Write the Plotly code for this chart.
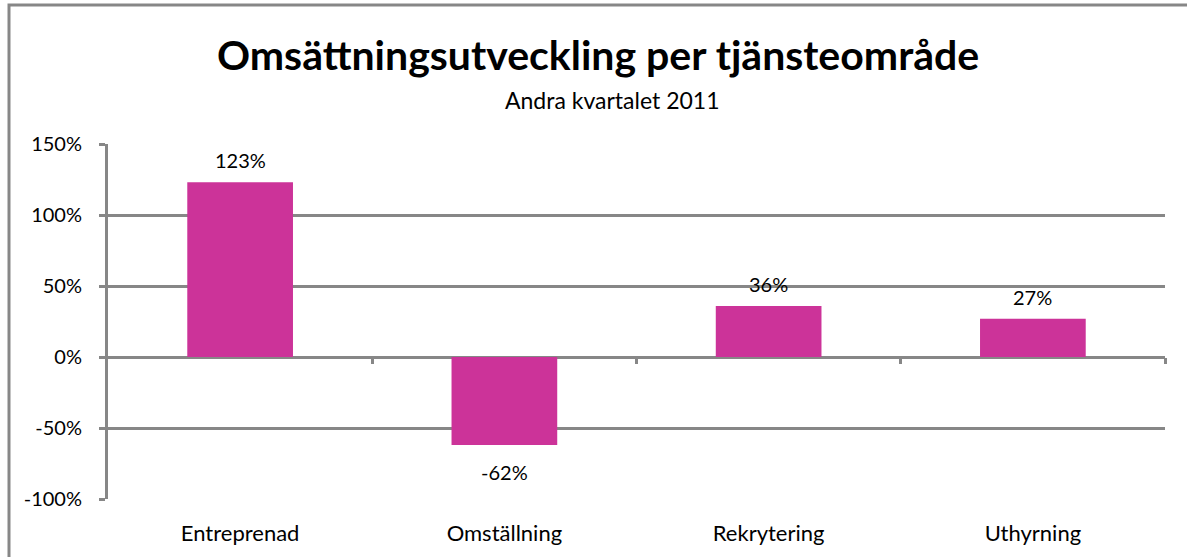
import plotly.graph_objects as go

categories = ["Entreprenad", "Omställning", "Rekrytering", "Uthyrning"]
values = [1.23, -0.62, 0.36, 0.27]
value_labels = ["123%", "-62%", "36%", "27%"]
y_tickvals = [-1.0, -0.5, 0.0, 0.5, 1.0, 1.5]
y_ticktext = ["-100%", "-50%", "0%", "50%", "100%", "150%"]

title_text = "Omsättningsutveckling per tjänsteområde"
subtitle_text = "Andra kvartalet 2011"

FONT = "Lato"
GRAY = "#878787"
BAR = "#CC3399"

W, H = 1187, 557
ML, MR, MT, MB = 108, 22, 144, 58
PW, PH = W - ML - MR, H - MT - MB

def px_x(px):
    return (px - ML) / PW

def px_y(py):
    return (H - MB - py) / PH

y_range = [-1.0, 1.5]
zero_pos = (0 - y_range[0]) / (y_range[1] - y_range[0])

fig = go.Figure()
fig.add_trace(go.Bar(
    x=list(range(len(categories))),
    y=values,
    marker=dict(color=BAR, line=dict(width=0)),
    hoverinfo="skip",
))

for i, (v, lab) in enumerate(zip(values, value_labels)):
    fig.add_annotation(x=i, y=v, text=lab, showarrow=False,
                       xanchor="center", yanchor="middle",
                       yshift=22 if v >= 0 else -27,
                       font=dict(family=FONT, size=20, color="#000000"))

fig.update_layout(
    width=W, height=H,
    margin=dict(l=ML, r=MR, t=MT, b=MB),
    paper_bgcolor="white", plot_bgcolor="white",
    showlegend=False,
    bargap=0.6,
    font=dict(family=FONT, color="#000000"),
    xaxis=dict(
        range=[-0.5, len(categories) - 0.5],
        tickvals=list(range(len(categories))),
        ticktext=categories,
        tickfont=dict(family=FONT, size=22),
        ticks="", showline=False, showgrid=False, zeroline=False,
        ticklabelstandoff=19,
    ),
    xaxis2=dict(
        overlaying="x", anchor="free", position=zero_pos,
        range=[-0.5, len(categories) - 0.5],
        tickvals=[i + 0.5 for i in range(len(categories))],
        showticklabels=False, ticks="outside", ticklen=6, tickwidth=3,
        tickcolor=GRAY, showline=False, showgrid=False, zeroline=False,
    ),
    yaxis=dict(
        range=y_range,
        tickvals=y_tickvals, ticktext=y_ticktext,
        tickfont=dict(family=FONT, size=20),
        showgrid=True, gridcolor=GRAY, gridwidth=3,
        zeroline=True, zerolinecolor=GRAY, zerolinewidth=3,
        showline=True, linecolor=GRAY, linewidth=3,
        ticks="outside", ticklen=6, tickwidth=3, tickcolor=GRAY,
        ticklabelstandoff=13,
    ),
)

# invisible trace to activate xaxis2
fig.add_trace(go.Scatter(x=[0], y=[0], xaxis="x2", mode="markers",
                         marker=dict(opacity=0), hoverinfo="skip"))

fig.add_annotation(text="<b>" + title_text + "</b>", xref="paper", yref="paper",
                   x=px_x(598), y=px_y(55), showarrow=False,
                   xanchor="center", yanchor="middle",
                   font=dict(family=FONT, size=41, color="#000000"))
fig.add_annotation(text=subtitle_text, xref="paper", yref="paper",
                   x=px_x(612), y=px_y(100), showarrow=False,
                   xanchor="center", yanchor="middle",
                   font=dict(family=FONT, size=23, color="#000000"))

# outer chart border
fig.add_shape(type="rect", xref="paper", yref="paper",
              x0=px_x(9), x1=px_x(1210),
              y0=px_y(580), y1=px_y(5),
              line=dict(color=GRAY, width=3), layer="below")

fig.write_html("out.html", config={"displayModeBar": False},
               post_script="document.body.style.margin='0';document.body.style.overflow='hidden';")
